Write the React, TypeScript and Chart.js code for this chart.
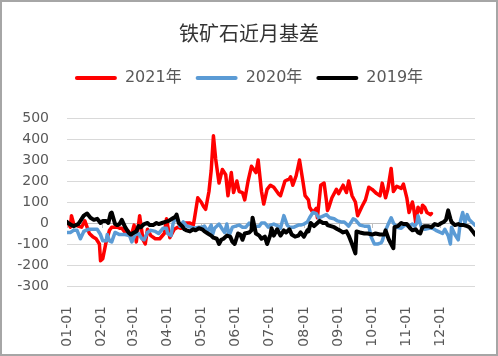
import React, { useEffect, useRef } from "react";
import { Chart, registerables } from "chart.js";

Chart.register(...registerables);

const title = "铁矿石近月基差";
const seriesNames = ["2021年", "2020年", "2019年"];
const seriesColors = ["#FF0000", "#5B9BD5", "#000000"];

const monthDays = [0, 31, 59, 90, 120, 151, 181, 212, 243, 273, 304, 334];
const monthLabels = ["01-01", "02-01", "03-01", "04-01", "05-01", "06-01", "07-01", "08-01", "09-01", "10-01", "11-01", "12-01"];

const yTicks = [-300, -200, -100, 0, 100, 200, 300, 400, 500];

const days2021 = [1, 3, 4, 6, 10, 13, 16, 20, 23, 26, 29, 30, 32, 35, 38, 40, 45, 47, 49, 52, 55, 57, 60, 62, 65, 68, 70, 72, 75, 79, 83, 87, 89, 92, 96, 99, 102, 106, 110, 113, 114, 117, 120, 122, 124, 127, 129, 131, 133, 136, 139, 142, 144, 147, 149, 152, 154, 157, 159, 162, 165, 169, 171, 174, 176, 179, 182, 185, 189, 191, 195, 199, 200, 202, 205, 208, 211, 213, 216, 217, 220, 223, 224, 227, 230, 232, 233, 234, 237, 241, 243, 247, 250, 252, 255, 258, 260, 264, 267, 270, 273, 277, 280, 282, 285, 287, 290, 292, 295, 299, 301, 304, 306, 309, 310, 312, 314, 317, 318, 320, 322, 325, 326];
const values2021 = [0, -20, 35, -5, -15, -20, 10, -50, -65, -75, -100, -180, -170, -90, -35, -20, -20, -25, -25, -45, -40, -70, -10, -90, 35, -80, -100, -30, -60, -75, -75, -50, 20, -70, -30, -20, -25, 0, 0, -10, 20, 120, 100, 80, 65, 150, 250, 415, 305, 190, 255, 230, 130, 240, 145, 200, 150, 145, 110, 200, 270, 240, 300, 150, 90, 160, 180, 170, 140, 130, 200, 210, 220, 180, 225, 300, 200, 130, 110, 75, 50, 70, 25, 180, 190, 110, 60, 70, 120, 160, 140, 180, 145, 200, 130, 100, 35, 80, 110, 170, 160, 140, 130, 190, 120, 160, 260, 150, 175, 165, 185, 120, 50, 100, 75, 0, 75, 50, 85, 75, 50, 40, 45];

const days2020 = [0, 3, 6, 9, 12, 15, 19, 23, 27, 30, 32, 35, 36, 38, 40, 43, 47, 52, 56, 58, 61, 64, 67, 69, 72, 75, 79, 82, 86, 89, 90, 93, 95, 97, 99, 101, 104, 107, 111, 114, 118, 121, 123, 126, 129, 130, 132, 136, 139, 141, 143, 145, 148, 151, 154, 157, 160, 163, 165, 169, 172, 174, 177, 180, 182, 185, 189, 191, 194, 197, 199, 203, 207, 209, 212, 215, 217, 220, 223, 225, 228, 232, 235, 239, 242, 245, 248, 250, 252, 256, 258, 262, 266, 270, 272, 275, 278, 281, 282, 285, 287, 290, 292, 295, 299, 302, 306, 309, 311, 313, 314, 317, 320, 324, 327, 330, 334, 336, 338, 341, 343, 344, 347, 350, 352, 354, 356, 358, 360, 363, 365];
const values2020 = [-45, -45, -35, -35, -75, -40, -30, -30, -30, -55, -85, -85, -55, -85, -90, -45, -55, -55, -60, -90, -55, -50, -75, -80, -45, -35, -40, -50, -25, -25, -50, -60, 0, 20, 15, -15, 5, -15, -20, -25, -20, -20, -15, -40, -10, -60, -25, -5, -30, -45, -5, -60, -20, -15, -10, -20, -20, 0, -10, -15, -15, 0, 0, -20, -10, -5, -15, -25, 35, -10, -20, -20, -10, -10, -5, 5, 25, 50, 45, 25, 30, 40, 25, 20, 10, 5, 5, -5, -15, 20, 15, -10, -15, -15, -65, -100, -100, -95, -85, -35, -10, 25, 0, -20, -25, -10, -15, -5, -15, 0, 35, -20, -30, -25, -25, -35, -45, -50, -30, -60, -100, -20, -55, -80, 10, 50, 0, 40, 15, 0, -10];

const days2019 = [0, 1, 4, 6, 10, 12, 15, 18, 21, 24, 27, 30, 32, 35, 37, 39, 40, 43, 45, 47, 49, 52, 55, 57, 60, 62, 64, 66, 69, 72, 74, 77, 80, 82, 85, 88, 91, 94, 97, 98, 100, 103, 105, 107, 110, 113, 115, 118, 121, 123, 126, 129, 131, 134, 136, 138, 140, 143, 146, 148, 150, 153, 155, 157, 159, 163, 165, 166, 169, 172, 174, 177, 179, 182, 183, 185, 188, 191, 194, 196, 199, 201, 204, 207, 209, 212, 215, 216, 218, 221, 224, 226, 229, 232, 233, 236, 239, 242, 244, 247, 250, 252, 255, 258, 259, 262, 266, 269, 273, 276, 280, 284, 285, 288, 290, 292, 293, 296, 299, 301, 304, 307, 309, 312, 314, 316, 318, 320, 323, 326, 329, 332, 335, 337, 339, 341, 343, 344, 347, 350, 352, 355, 358, 360, 363, 365];
const values2019 = [5, 0, -10, -15, -5, 10, 35, 45, 25, 15, 20, 0, 10, 10, 0, 45, 50, -5, -10, -5, 15, -20, -45, -55, -45, -40, -15, -20, -5, 0, -10, -10, 0, -5, 0, 5, 10, 20, 30, 40, 0, -15, -30, -35, -40, -30, -35, -25, -30, -40, -50, -60, -70, -75, -100, -80, -75, -60, -65, -90, -100, -50, -55, -80, -50, -45, -35, 25, -50, -60, -75, -65, -100, -55, -25, -60, -30, -60, -35, -45, -30, -55, -65, -60, -45, -65, -35, -40, 0, -15, 0, 10, 0, 0, -10, -15, -20, -30, -35, -45, -40, -60, -100, -145, -40, -45, -50, -50, -55, -50, -55, -55, -35, -80, -100, -120, -20, -15, 0, -5, -5, -25, -35, -30, -45, -50, -20, -15, -15, -20, -5, -10, 0, 5, 15, 60, 20, 5, -10, -5, -10, -10, -15, -20, -40, -55];

const FONT = '"DejaVu Sans", "Noto Sans CJK SC", sans-serif';

function toPoints(days: number[], vals: number[]) {
  return days.map((d, i) => ({ x: d, y: vals[i] }));
}

const zeroAxisPlugin = {
  id: "zeroAxis",
  beforeDatasetsDraw(chart: any) {
    const { ctx, scales, chartArea } = chart;
    const y0 = scales.y.getPixelForValue(0);
    ctx.save();
    ctx.strokeStyle = "#bfbfbf";
    ctx.lineWidth = 1;
    ctx.beginPath();
    ctx.moveTo(chartArea.left, Math.round(y0) + 0.5);
    ctx.lineTo(chartArea.right, Math.round(y0) + 0.5);
    monthDays.forEach((d) => {
      const x = Math.round(scales.x.getPixelForValue(d)) + 0.5;
      ctx.moveTo(x, y0);
      ctx.lineTo(x, y0 + 5);
    });
    ctx.stroke();
    ctx.restore();
  },
};

export default function App() {
  const ref = useRef<HTMLCanvasElement>(null);
  useEffect(() => {
    document.body.style.margin = "0";
    const seriesDays = [days2021, days2020, days2019];
    const seriesVals = [values2021, values2020, values2019];
    const widths = [3.5, 3.5, 4];
    const orders = [3, 2, 1];
    const chart = new Chart(ref.current!, {
      type: "line",
      data: {
        datasets: seriesNames.map((name, i) => ({
          label: name,
          data: toPoints(seriesDays[i], seriesVals[i]),
          borderColor: seriesColors[i],
          backgroundColor: seriesColors[i],
          borderWidth: widths[i],
          pointRadius: 0,
          tension: 0,
          borderJoinStyle: "round" as const,
          borderCapStyle: "round" as const,
          order: orders[i],
          xAxisID: "x",
          yAxisID: "y",
        })),
      },
      options: {
        responsive: false,
        animation: false,
        layout: { padding: { left: 0, right: 0, top: 0, bottom: 0 } },
        plugins: {
          tooltip: { enabled: false },
          title: {
            display: true,
            text: title,
            color: "#333333",
            font: { family: '"Noto Sans CJK SC", sans-serif', size: 20, weight: "normal" },
            padding: { top: 19, bottom: 11 },
          },
          legend: {
            display: true,
            position: "top",
            labels: {
              boxWidth: 42,
              boxHeight: 4,
              padding: 14,
              color: "#595959",
              font: { family: FONT, size: 16 },
              sort: (a: any, b: any) => a.datasetIndex - b.datasetIndex,
              generateLabels: (c: any) =>
                Chart.defaults.plugins.legend.labels.generateLabels(c).map((it: any) => ({
                  ...it,
                  lineWidth: 0,
                  fillStyle: it.strokeStyle,
                  borderRadius: 2,
                })),
              useBorderRadius: true,
              borderRadius: 2,
            },
          },
        },
        scales: {
          x: {
            type: "linear",
            position: "bottom",
            min: 0,
            max: 365,
            afterBuildTicks: (s: any) => {
              s.ticks = monthDays.map((v) => ({ value: v }));
            },
            afterFit: (s: any) => {
              s.height = 68;
            },
            grid: { display: false },
            border: { display: false },
            ticks: {
              autoSkip: false,
              minRotation: 90,
              maxRotation: 90,
              padding: 12,
              color: "#595959",
              font: { family: FONT, size: 14 },
              callback: (v: any) => {
                const i = monthDays.indexOf(Number(v));
                return i >= 0 ? monthLabels[i] : "";
              },
            },
          },
          spacer: {
            type: "linear",
            position: "top",
            display: true,
            grid: { display: false },
            border: { display: false },
            ticks: { display: false },
            afterFit: (s: any) => {
              s.height = 22;
            },
          },
          y: {
            type: "linear",
            position: "left",
            min: -300,
            max: 500,
            afterBuildTicks: (s: any) => {
              s.ticks = yTicks.map((v) => ({ value: v }));
            },
            afterFit: (s: any) => {
              s.width = 65;
            },
            grid: { color: "#d9d9d9", lineWidth: 1, drawTicks: false },
            border: { display: false },
            ticks: {
              padding: 18,
              color: "#595959",
              font: { family: FONT, size: 14 },
            },
          },
          rightSpacer: {
            type: "linear",
            position: "right",
            display: true,
            grid: { display: false },
            border: { display: false },
            ticks: { display: false },
            afterFit: (s: any) => {
              s.width = 21;
            },
          },
        },
      },
      plugins: [zeroAxisPlugin],
    });
    return () => chart.destroy();
  }, []);
  return (
    <div
      style={{
        width: 498,
        height: 356,
        boxSizing: "border-box",
        border: "2px solid #a6a6a6",
        background: "#fff",
      }}
    >
      <canvas ref={ref} width={494} height={352} style={{ display: "block", width: 494, height: 352 }} />
    </div>
  );
}
